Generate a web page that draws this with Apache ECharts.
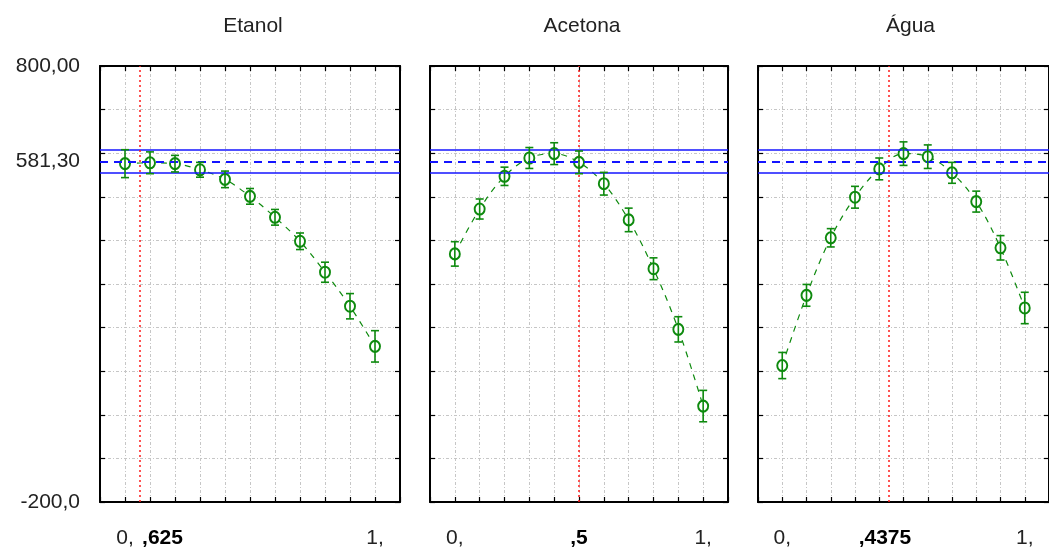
<!DOCTYPE html>
<html>
<head>
<meta charset="utf-8">
<script src="https://cdn.jsdelivr.net/npm/echarts@6/dist/echarts.min.js"></script>
<style>
  html, body { margin: 0; padding: 0; background: #fff; }
  #chart { width: 1049px; height: 554px; }
</style>
</head>
<body>
<div id="chart"></div>
<script>
// factor levels (0 .. 1 by .1)
const levels = [0, 0.1, 0.2, 0.3, 0.4, 0.5, 0.6, 0.7, 0.8, 0.9, 1];
const panelNames = ["Etanol", "Acetona", "Água"];

// predicted response and error bar half-width per level
const etanolMean = [576, 578, 576, 562, 540, 501, 453, 398, 327, 249, 157];
const etanolErr = [32, 25, 19, 17, 19, 18, 18, 19, 23, 29, 36];
const acetonaMean = [369, 472, 547, 589, 599, 579, 530, 447, 335, 196, 20];
const acetonaErr = [28, 23, 21, 24, 25, 26, 26, 27, 25, 29, 36];
const aguaMean = [113, 274, 406, 499, 564, 599, 592, 555, 489, 383, 245];
const aguaErr = [30, 25, 21, 25, 25, 27, 27, 24, 24, 28, 36];

// optimum (red line) and its label
const optimumX = [0.0625, 0.5, 0.4375];
const optimumLabels = [",625", ",5", ",4375"];
const xLabelValues = [0, 1];
const xLabelTexts = ["0,", "1,"];

// predicted value at optimum (dashed) and confidence band (solid)
const optimumY = 581.3;
const bandLow = 555;
const bandHigh = 607;

const yLabelValues = [-200, 581.3, 800];
const yLabelTexts = ["-200,0", "581,30", "800,00"];

const means = [etanolMean, acetonaMean, aguaMean];
const errs = [etanolErr, acetonaErr, aguaErr];

const font = "'Liberation Sans', Arial, sans-serif";
const fs = 21;
const green = "#0e8a0e";
const gridLeft = [100, 430, 758];
const gridWidth = [300, 298, 299];
// shift of the bold label away from the red line (px of padding)
const optPad = [[0, 0, 0, 45], [0, 0, 0, 0], [0, 8, 0, 0]];

function pick(v, vals, texts) {
  for (let k = 0; k < vals.length; k++) if (Math.abs(v - vals[k]) < 1e-6) return texts[k];
  return "";
}

let myChart = echarts.init(document.getElementById("chart"), null, { renderer: "canvas" }),
  option;

let grids = [], xAxes = [], yAxes = [], series = [], titles = [];

for (let i = 0; i < 3; i++) {
  grids.push({ left: gridLeft[i], top: 66, width: gridWidth[i], height: 436 });
  titles.push({
    text: panelNames[i],
    left: gridLeft[i] + gridWidth[i] / 2 - 2,
    top: 11,
    textAlign: "center",
    textStyle: { fontSize: fs, fontWeight: "normal", color: "#222", fontFamily: font }
  });

  let axisLine = { show: true, onZero: false, lineStyle: { color: "#000", width: 2 } },
    tick = { show: true, inside: true, length: 5, lineStyle: { color: "#000", width: 1.2 } },
    grid = { show: true, lineStyle: { color: "#c6c6c6", width: 1, type: [3, 2, 1, 2] } };

  // bottom x axis with labels
  xAxes.push({
    type: "value", gridIndex: i, position: "bottom",
    min: -0.1, max: 1.1, interval: 0.1,
    axisLine: axisLine, axisTick: tick, splitLine: grid,
    axisLabel: {
      customValues: xLabelValues,
      margin: 26,
      fontFamily: font, fontSize: fs, color: "#222",
      formatter: function (v) { return pick(v, xLabelValues, xLabelTexts); }
    }
  });
  // top x axis, ticks only
  xAxes.push({
    type: "value", gridIndex: i, position: "top",
    min: -0.1, max: 1.1, interval: 0.1,
    axisLine: axisLine, axisTick: tick, splitLine: { show: false },
    axisLabel: { show: false }
  });
  yAxes.push({
    type: "value", gridIndex: i, position: "left",
    min: -200, max: 800, interval: 100,
    axisLine: axisLine, axisTick: tick, splitLine: grid,
    axisLabel: {
      show: i === 0,
      customValues: yLabelValues,
      showMinLabel: true,
      showMaxLabel: true,
      margin: 20,
      fontFamily: font, fontSize: fs, color: "#222",
      formatter: function (v) { return pick(v, yLabelValues, yLabelTexts); }
    }
  });
  yAxes.push({
    type: "value", gridIndex: i, position: "right",
    min: -200, max: 800, interval: 100,
    axisLine: axisLine, axisTick: tick, splitLine: { show: false },
    axisLabel: { show: false }
  });

  let pts = levels.map((x, k) => [x, means[i][k]]);
  series.push({
    type: "line",
    xAxisIndex: i * 2, yAxisIndex: i * 2,
    data: pts,
    smooth: 0.35,
    symbol: "emptyCircle",
    symbolSize: [10, 11],
    itemStyle: { color: green, borderWidth: 1.6 },
    lineStyle: { color: green, width: 1.2, type: [6, 6] },
    z: 4,
    markLine: {
      silent: true,
      symbol: "none",
      label: { show: false },
      data: [
        { yAxis: bandHigh, lineStyle: { color: "#1414ff", width: 1.6, type: "solid" } },
        { yAxis: optimumY, lineStyle: { color: "#1414ff", width: 2, type: [8, 6] } },
        { yAxis: bandLow, lineStyle: { color: "#1414ff", width: 1.6, type: "solid" } },
        {
          xAxis: optimumX[i],
          lineStyle: { color: "#ff1a1a", width: 1.5, type: [2, 3] },
          label: {
            show: true,
            position: "start",
            distance: 26,
            formatter: optimumLabels[i],
            fontFamily: font, fontSize: fs, fontWeight: "bold", color: "#000",
            padding: optPad[i]
          }
        }
      ]
    }
  });
  // error bars
  series.push({
    type: "custom",
    xAxisIndex: i * 2, yAxisIndex: i * 2,
    data: levels.map((x, k) => [x, means[i][k] - errs[i][k], means[i][k] + errs[i][k]]),
    z: 5,
    renderItem: function (params, api) {
      let lo = api.coord([api.value(0), api.value(1)]),
        hi = api.coord([api.value(0), api.value(2)]),
        w = 4,
        st = { stroke: green, lineWidth: 1.6 };
      return {
        type: "group",
        children: [
          { type: "line", shape: { x1: lo[0], y1: lo[1], x2: hi[0], y2: hi[1] }, style: st },
          { type: "line", shape: { x1: lo[0] - w, y1: lo[1], x2: lo[0] + w, y2: lo[1] }, style: st },
          { type: "line", shape: { x1: hi[0] - w, y1: hi[1], x2: hi[0] + w, y2: hi[1] }, style: st }
        ]
      };
    }
  });
}

option = {
  animation: false,
  backgroundColor: "#fff",
  title: titles,
  grid: grids,
  xAxis: xAxes,
  yAxis: yAxes,
  series: series
};

if (option && typeof option === "object") myChart.setOption(option);
window.addEventListener("resize", function () {
  myChart.resize();
});
</script>
</body>
</html>
